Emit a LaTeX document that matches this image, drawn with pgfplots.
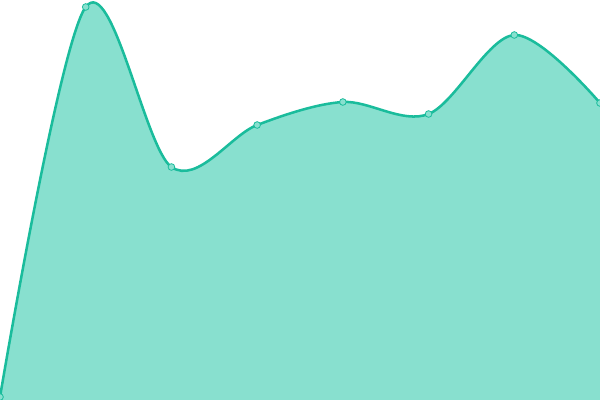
\documentclass[border=0pt]{standalone}
\usepackage{pgfplots}
\pgfplotsset{compat=1.18}
\definecolor{turq}{HTML}{1ABC9C}
\definecolor{turqfill}{HTML}{88E0CF}
\begin{document}
\begin{tikzpicture}
\begin{axis}[
  scale only axis, width=450pt, height=300pt,
  xmin=0, xmax=7, ymin=0, ymax=400,
  hide axis, clip=true, clip marker paths=true,
]
\addplot[draw=none, fill=turqfill, smooth, tension=0.55] coordinates {
(0,3) (1,393) (2,233) (3,275) (4,298) (5,286) (6,365) (7,297)
} \closedcycle;
\addplot[turq, line width=1.9pt, smooth, tension=0.55,
  mark=*, mark size=2.5pt, mark options={fill=turqfill, draw=turq, line width=0.6pt}] coordinates {
(0,3) (1,393) (2,233) (3,275) (4,298) (5,286) (6,365) (7,297)
};
\end{axis}
\pgfresetboundingbox
\path (0,0) rectangle (450pt,300pt);
\end{tikzpicture}
\end{document}
